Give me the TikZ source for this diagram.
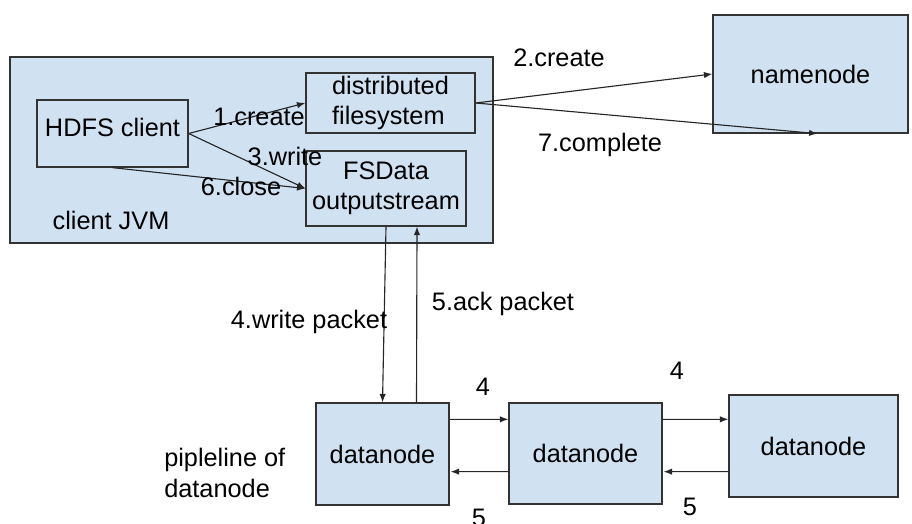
\documentclass[tikz,border=0pt]{standalone}
\usepackage{fontspec}
\setmainfont{Liberation Sans}
\usetikzlibrary{arrows.meta,calc}
\definecolor{boxblue}{RGB}{208,225,242}

\begin{document}
\begin{tikzpicture}[x=0.025cm,y=-0.025cm,
  every node/.style={font=\fontsize{18}{21.5}\selectfont},
  box/.style={draw=black!80,fill=boxblue,line width=0.9pt,inner sep=0pt,align=center},
  lbl/.style={inner sep=0pt,text height=0.72em,text depth=0pt},
  arrow/.style={-{Latex[length=2.1mm,width=1.6mm]},line width=0.8pt,draw=black!85}
]
  \useasboundingbox (0,0) rectangle (912,524);
  \node[box,minimum width=12.075cm,minimum height=4.65cm] (jvm) at (251.5,150) {};
  \node[box,minimum width=3.775cm,minimum height=1.675cm,text depth=0.33cm] (hdfs) at (112.5,133.5) {HDFS client};
  \node[box,align=left,minimum width=4.225cm,minimum height=1.5cm] (dfs) at (390.5,103) {distributed\\filesystem};
  \node[box,minimum width=4cm,minimum height=1.875cm] (fsd) at (386,188.5) {FSData\\outputstream};
  \node[box,minimum width=4.875cm,minimum height=2.95cm] (nn) at (810.5,74) {namenode};
  \node[box,minimum width=3.325cm,minimum height=2.55cm] (dn1) at (382.5,454) {datanode};
  \node[box,minimum width=3.825cm,minimum height=2.525cm] (dn2) at (585.5,453.5) {datanode};
  \node[box,minimum width=4.225cm,minimum height=2.55cm] (dn3) at (813.5,446) {datanode};
  % client side
  \draw[arrow] (hdfs.east) -- (dfs.west);
  \draw[arrow] (hdfs.east) -- (fsd.west);
  \draw[arrow] (hdfs.south) -- (fsd.west);
  % namenode
  \draw[arrow] (dfs.east) -- (nn.west);
  \draw[arrow] (dfs.east) -- ($(nn.south)+(7,0)$);
  % packets
  \draw[arrow] (fsd.south) -- (dn1.north);
  \draw[arrow] ($(dn1.north)+(34,0)$) -- ($(fsd.south)+(31,0)$);
  % pipeline
  \draw[arrow] ($(dn1.north east)+(0,17)$) -- ($(dn2.north west)+(0,17)$);
  \draw[arrow] ($(dn2.south west)+(0,-33)$) -- ($(dn1.south east)+(1,-34)$);
  \draw[arrow] ($(dn2.north east)+(0,17)$) -- ($(dn3.north west)+(0,25)$);
  \draw[arrow] ($(dn3.south west)+(0,-26)$) -- ($(dn2.south east)+(1,-33)$);
  % labels
  \node[lbl] (lcreate) at (259,120) {1.create};
  \node[lbl] (lwrite) at (285,160) {3.write};
  \node[lbl] (lclose) at (241,190) {6.close};
  \node[lbl] (ljvm) at (111,224) {client JVM};
  \node[lbl] (lcreatenn) at (559,61) {2.create};
  \node[lbl] (lcomplete) at (600,146) {7.complete};
  \node[lbl] (lwpacket) at (309,323) {4.write packet};
  \node[lbl] (lack) at (503,305) {5.ack packet};
  \node[lbl] (lfour) at (483,390) {4};
  \node[lbl] (lfive) at (479,521) {5};
  \node[lbl] (lfourb) at (677,374) {4};
  \node[lbl] (lfiveb) at (690,510) {5};
  \node[inner sep=0pt,align=left,anchor=west] (lpipe) at (164,473) {pipleline of\\datanode};
\end{tikzpicture}
\end{document}
